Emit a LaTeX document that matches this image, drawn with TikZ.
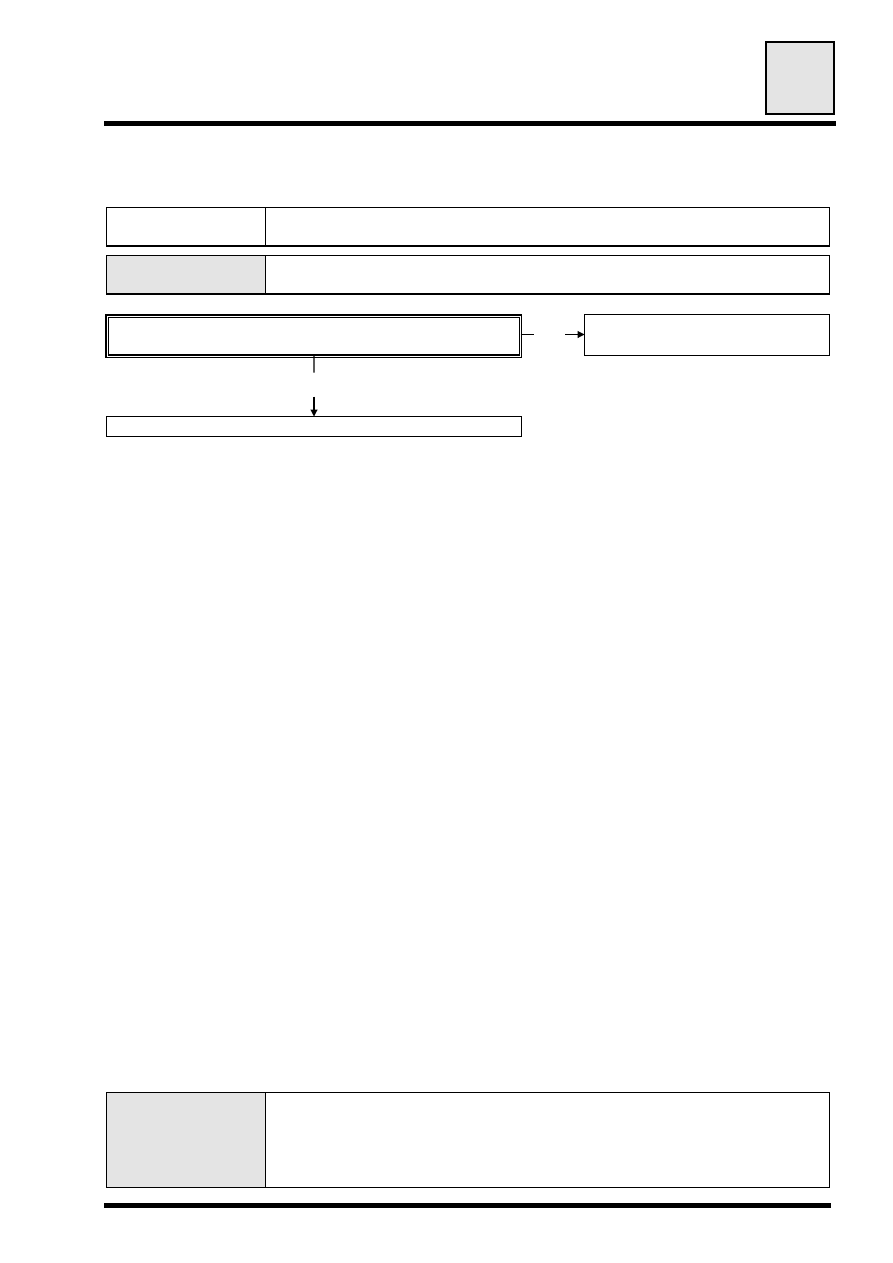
\documentclass[tikz,border=0pt]{standalone}
\usetikzlibrary{arrows.meta}
\definecolor{cellgray}{HTML}{E4E4E4}
\tikzset{
  box/.style={draw=black, line width=1.3pt, rectangle, inner sep=0pt, outer sep=0pt, anchor=north west},
  graycell/.style={box, fill=cellgray},
  dblbox/.style={draw=black, double=white, double distance=1.1pt, line width=1.2pt, rectangle, inner sep=0pt, outer sep=0pt, anchor=north west},
  rulebar/.style={fill=black, draw=none, rectangle, inner sep=0pt, outer sep=0pt, anchor=north west},
  conn/.style={draw=black, line width=1.1pt},
  arr/.style={conn, -{Triangle[length=7pt,width=7pt]}}
}
\begin{document}
\begin{tikzpicture}[x=1pt, y=-1pt]
\useasboundingbox (0,0) rectangle (893,1263);
% header square and rule
\node[graycell, minimum width=68pt, minimum height=72pt] (tab) at (766,42) {};
\node[rulebar, minimum width=732pt, minimum height=5pt] (toprule) at (104,121) {};
% top table
\node[box, minimum width=159pt, minimum height=38.5pt] (r1l) at (106.5,207.5) {};
\node[box, minimum width=564pt, minimum height=38.5pt] (r1r) at (265.5,207.5) {};
\node[graycell, minimum width=159pt, minimum height=38.5pt] (r2l) at (106.5,255.5) {};
\node[box, minimum width=564pt, minimum height=38.5pt] (r2r) at (265.5,255.5) {};
% flow
\node[dblbox, minimum width=413.5pt, minimum height=40pt] (main) at (107.2,316.2) {};
\node[box, minimum width=245pt, minimum height=41pt] (side) at (584.5,314.5) {};
\node[box, minimum width=415pt, minimum height=20pt] (below) at (106.5,416.5) {};
\coordinate (c1) at (534,334.5);
\coordinate (c2) at (565,334.5);
\coordinate (c3) at (314,372.7);
\coordinate (c4) at (314,396.7);
\draw[conn] (main.east |- c1) -- (c1);
\draw[arr] (c2) -- (side.west |- c2);
\draw[conn] (main.south) -- (c3);
\draw[arr] (c4) -- (below.north);
% bottom table
\node[graycell, minimum width=159pt, minimum height=95pt] (b1l) at (106.5,1092.5) {};
\node[box, minimum width=564pt, minimum height=95pt] (b1r) at (265.5,1092.5) {};
\node[rulebar, minimum width=727pt, minimum height=5pt] (botrule) at (104,1203) {};
\end{tikzpicture}
\end{document}
